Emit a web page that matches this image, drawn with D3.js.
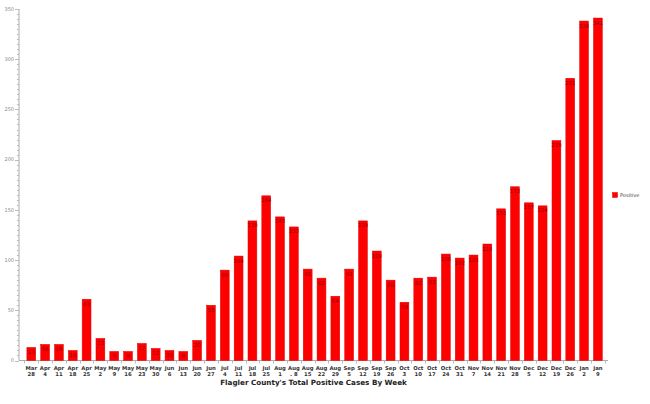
<!DOCTYPE html>
<html><head><meta charset="utf-8">
<script src="https://cdn.jsdelivr.net/npm/d3@7"></script>
<style>body{margin:0;background:#fff}svg{display:block}</style>
</head><body>
<svg id="c" width="650" height="404"></svg>
<script>
const weeksTop = ["Mar","Apr","Apr","Apr","Apr","May","May","May","May","May","Jun","Jun","Jun","Jun","Jul","Jul","Jul","Jul","Aug","Aug","Aug","Aug","Aug","Sep","Sep","Sep","Sep","Oct","Oct","Oct","Oct","Oct","Nov","Nov","Nov","Nov","Dec","Dec","Dec","Dec","Jan","Jan"];
const weeksBottom = ["28","4","11","18","25","2","9","16","23","30","6","13","20","27","4","11","18","25","1",". 8","15","22","29","5","12","19","26","3","10","17","24","31","7","14","21","28","5","12","19","26","2","9"];
const positive = [13,16,16,10,61,22,9,9,17,12,10,9,20,55,90,104,139,164,143,133,91,82,64,91,139,109,80,58,82,83,106,102,105,116,151,173,157,154,219,281,338,341];
const yTicks = [0,50,100,150,200,250,300,350];
const seriesName = "Positive";
const title = "Flagler County's Total Positive Cases By Week";

const data = positive.map((v,i)=>({key:i, top:weeksTop[i], bottom:weeksBottom[i], value:v}));
const svg = d3.select("#c");
const axisX0 = 19, axisX1 = 608;
const x = d3.scaleBand().domain(data.map(d=>d.key)).range([24.4, 604.8]).paddingInner(0.36).paddingOuter(0.18);
const y = d3.scaleLinear().domain([0,350]).range([360.5, 9]);

// y axis
const gy = svg.append("g");
gy.append("line").attr("x1",axisX0).attr("x2",axisX0).attr("y1",y(350)).attr("y2",y(0)).attr("stroke","#aaa").attr("stroke-width",1);
gy.selectAll(".minor").data(d3.range(0,351,5)).join("line")
  .attr("x2",axisX0)
  .attr("x1",d=> d%50===0 ? axisX0-4 : axisX0-2)
  .attr("y1",d=>Math.round(y(d))+0.5).attr("y2",d=>Math.round(y(d))+0.5)
  .attr("stroke","#bbb").attr("stroke-width",1);
gy.selectAll("text").data(yTicks).join("text")
  .attr("x",axisX0-5).attr("y",d=>y(d)).attr("dy","0.35em")
  .attr("text-anchor","end").attr("font-family","DejaVu Sans, sans-serif").attr("font-size",5).attr("fill","#888")
  .text(d=>d);

// x axis
const gx = svg.append("g");
gx.append("line").attr("x1",axisX0).attr("x2",axisX1).attr("y1",y(0)).attr("y2",y(0)).attr("stroke","#aaa");
const step = x.step();
const bStart = x.range()[0];
gx.selectAll(".tk").data(d3.range(0, data.length+1)).join("line")
  .attr("x1",i=>Math.round(bStart + i*step)+0.5).attr("x2",i=>Math.round(bStart + i*step)+0.5)
  .attr("y1",y(0)).attr("y2",y(0)+3).attr("stroke","#bbb");
const lab = gx.selectAll(".lab").data(data).join("text")
  .attr("x",d=>x(d.key)+x.bandwidth()/2).attr("text-anchor","middle")
  .attr("font-family","DejaVu Sans, sans-serif").attr("font-size",5.3).attr("font-weight","bold").attr("fill","#333");
lab.append("tspan").attr("x",d=>x(d.key)+x.bandwidth()/2).attr("y",369.5).text(d=>d.top);
lab.append("tspan").attr("x",d=>x(d.key)+x.bandwidth()/2).attr("y",375.5).text(d=>d.bottom);

// bars
svg.append("g").selectAll("rect").data(data).join("rect")
  .attr("x",d=>x(d.key)).attr("width",x.bandwidth())
  .attr("y",d=>y(d.value)).attr("height",d=>y(0)-y(d.value))
  .attr("fill","#ff0000").attr("stroke","#e00000").attr("stroke-width",0.5);

// value labels
svg.append("g").selectAll("text").data(data).join("text")
  .attr("x",d=>x(d.key)+x.bandwidth()/2).attr("y",d=>y(d.value)+6.5)
  .attr("text-anchor","middle").attr("font-family","DejaVu Sans, sans-serif").attr("font-size",5.5)
  .attr("fill","#6a0000").attr("fill-opacity",0.75).text(d=>d.value);

// title
const t = svg.append("text").attr("x",(axisX0+axisX1)/2).attr("y",385)
  .attr("text-anchor","middle").attr("font-family","DejaVu Sans, sans-serif").attr("font-weight","bold").attr("font-size",9).attr("fill","#222")
  .text(title);
const w = t.node().getComputedTextLength();
t.attr("font-size", 9*187/w);

// legend
const lg = svg.append("g");
lg.append("rect").attr("x",612.5).attr("y",192.5).attr("width",5).attr("height",5).attr("fill","#ff0000").attr("stroke","#e00000").attr("stroke-width",0.5);
lg.append("text").attr("x",620).attr("y",195).attr("dy","0.35em").attr("font-family","DejaVu Sans, sans-serif").attr("font-size",5).attr("fill","#444").text(seriesName);
</script>
</body></html>
